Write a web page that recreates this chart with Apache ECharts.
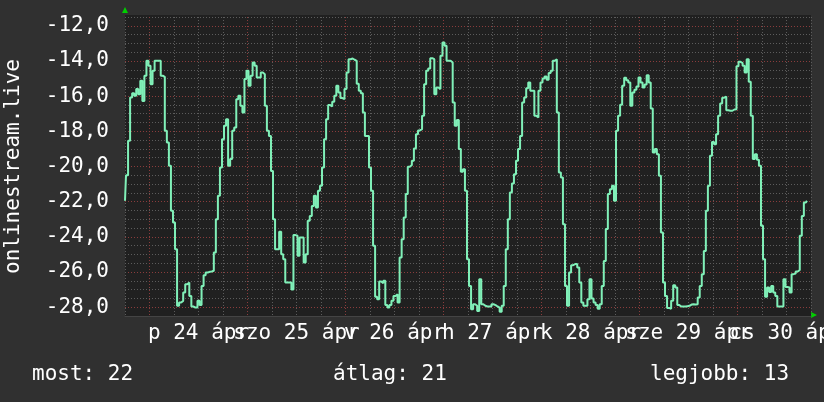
<!DOCTYPE html>
<html>
<head>
<meta charset="utf-8">
<script src="https://cdn.jsdelivr.net/npm/echarts@6/dist/echarts.min.js"></script>
<style>
html,body{margin:0;padding:0;background:#303030;}
#chart{width:824px;height:402px;}
</style>
</head>
<body>
<div id="chart"></div>
<script>
// half-hourly samples, starting Thu 23 Apr 18:00
var values = [
-21.95,-20.5,-18.54,-16.08,-15.83,-15.98,-15.6,-15.89,-15.13,-16.27,
-14.84,-13.99,-14.27,-15.32,-14.56,-13.99,-13.99,-13.99,-14.84,-14.9,
-17.97,-18.64,-19.96,-22.52,-23.18,-24.7,-27.92,-27.73,-27.64,-27.17,
-26.69,-26.6,-27.36,-27.96,-28.02,-28.02,-27.64,-27.88,-26.79,-26.18,
-26.03,-25.99,-25.97,-25.93,-24.89,-23.0,-21.67,-20.06,-18.45,-17.69,
-17.31,-19.96,-19.58,-17.97,-17.78,-16.17,-15.98,-16.55,-16.93,-15.03,
-14.56,-15.41,-14.84,-14.09,-14.27,-14.94,-14.94,-14.65,-14.75,-16.55,
-17.97,-18.26,-20.25,-23.0,-24.7,-24.7,-23.71,-24.99,-25.27,-26.6,
-26.6,-26.6,-27.0,-23.9,-23.94,-25.08,-24.04,-24.04,-25.46,-24.99,
-23.09,-22.81,-22.24,-21.67,-22.33,-21.38,-21.1,-20.06,-18.45,-17.31,
-16.51,-16.59,-16.32,-15.98,-15.41,-15.79,-16.11,-16.17,-15.6,-14.65,
-13.9,-13.86,-13.93,-13.99,-15.3,-15.7,-15.83,-16.93,-18.26,-18.26,
-20.06,-21.38,-24.5,-27.4,-27.55,-26.54,-26.64,-26.5,-27.87,-28.02,
-27.88,-27.64,-27.36,-27.26,-27.73,-25.18,-24.13,-22.9,-21.57,-20.02,
-19.92,-19.68,-18.98,-18.16,-17.95,-17.88,-17.12,-15.32,-14.56,-14.43,
-13.84,-13.9,-15.89,-15.51,-15.6,-13.7,-12.95,-13.14,-13.99,-13.99,
-14.09,-16.36,-17.69,-17.36,-19.01,-20.3,-20.15,-21.38,-25.27,-26.79,
-28.11,-27.83,-27.92,-28.21,-26.41,-27.83,-27.92,-27.96,-27.96,-27.96,
-27.83,-27.88,-27.96,-28.02,-28.26,-27.92,-26.79,-24.7,-23.0,-21.48,
-20.97,-20.44,-19.68,-19.01,-18.26,-16.36,-16.08,-15.55,-15.22,-15.7,
-15.7,-17.12,-17.21,-15.7,-15.22,-15.0,-14.88,-15.07,-14.69,-14.56,
-13.99,-13.9,-16.93,-20.34,-20.63,-23.28,-26.79,-27.92,-26.03,-25.61,
-25.55,-25.55,-25.74,-26.6,-27.73,-27.92,-27.92,-27.55,-26.41,-27.5,
-27.73,-27.87,-28.09,-27.83,-26.79,-25.37,-23.56,-21.57,-21.29,-21.1,
-21.95,-17.97,-17.12,-16.49,-15.41,-14.96,-15.09,-15.22,-16.55,-15.79,
-15.64,-15.45,-14.94,-15.22,-15.51,-15.34,-14.81,-15.22,-16.7,-19.2,
-19.01,-19.3,-20.53,-23.75,-26.6,-27.36,-28.04,-28.09,-27.64,-26.75,
-26.88,-27.88,-27.96,-27.96,-27.96,-27.94,-27.92,-27.85,-27.83,-27.85,
-27.83,-27.45,-26.79,-26.12,-24.8,-22.52,-21.1,-19.39,-18.6,-18.73,
-18.16,-17.12,-16.42,-16.09,-16.02,-16.8,-16.83,-16.83,-16.76,-16.74,
-14.3,-14.05,-14.12,-14.27,-14.65,-13.9,-15.18,-17.12,-19.58,-19.3,
-19.62,-19.96,-23.37,-25.27,-27.4,-26.88,-27.13,-26.79,-27.17,-27.36,
-27.96,-27.96,-27.96,-26.41,-26.85,-26.88,-27.17,-26.12,-26.09,-25.97,
-25.88,-23.94,-22.81,-22.05,-21.95
];
var sampleHours = 0.5;
// day labels, placed at noon of each day (hours from start)
var dayLabels = ['p 24 ápr','szo 25 ápr','v 26 ápr','h 27 ápr','k 28 ápr','sze 29 ápr','cs 30 ápr'];
var dayNoonHours = [18, 42, 66, 90, 114, 138, 162];
var yTicks = [-28,-26,-24,-22,-20,-18,-16,-14,-12];
var yTitle = 'onlinestream.live';
var summaryNames = ['most', 'átlag', 'legjobb'];
var summaryValues = [22, 21, 13];

var FONT = "'DejaVu Sans Mono', monospace";
var MINOR = '#5c5c5c', MAJOR = '#8a3c3c';

var chart = echarts.init(document.getElementById('chart'), null, {renderer: 'canvas'});
var data = values.map(function (v, i) { return [i * sampleHours, v]; });

chart.setOption({
  backgroundColor: '#303030',
  animation: false,
  grid: {
    left: 125, top: 17, width: 686, height: 299,
    containLabel: false, outerBoundsMode: 'none',
    show: true, backgroundColor: '#202020', borderWidth: 0
  },
  xAxis: {
    type: 'value', min: 0, max: 168, interval: 6,
    axisLine: {show: true, lineStyle: {color: '#444444', width: 1}},
    axisTick: {show: false},
    splitLine: {show: true, showMinLine: true, showMaxLine: true,
      lineStyle: {color: [MINOR, MAJOR, MINOR, MINOR], type: [1, 2], width: 1}},
    axisLabel: {
      margin: 7, color: '#ffffff', fontSize: 21, fontFamily: FONT,
      showMinLabel: true, showMaxLabel: true, hideOverlap: false,
      formatter: function (v) {
        var k = dayNoonHours.indexOf(Math.round(v));
        return k >= 0 ? dayLabels[k] : '';
      }
    }
  },
  yAxis: {
    type: 'value', min: -28.5, max: -11.5, interval: 0.5,
    name: yTitle, nameLocation: 'middle', nameGap: 101, nameRotate: 90,
    nameTextStyle: {color: '#ffffff', fontSize: 21, fontFamily: FONT},
    axisLine: {show: false},
    axisTick: {show: false},
    splitLine: {show: true, showMinLine: true, showMaxLine: true,
      lineStyle: {color: [MINOR, MAJOR, MINOR, MINOR], type: [1, 2], width: 1}},
    axisLabel: {
      margin: 16, color: '#ffffff', fontSize: 21, fontFamily: FONT,
      formatter: function (v) {
        for (var i = 0; i < yTicks.length; i++) {
          if (Math.abs(yTicks[i] - v) < 1e-6) return yTicks[i].toFixed(1).replace('.', ',');
        }
        return '';
      }
    }
  },
  graphic: [
    {type: 'rect', shape: {x: 125, y: 15, width: 686, height: 2}, style: {fill: '#202020'}, z: -1},
    {type: 'polygon', shape: {points: [[122, 13], [128, 13], [125, 7]]}, style: {fill: '#00d000'}},
    {type: 'polygon', shape: {points: [[811, 312], [811, 318], [817, 315]]}, style: {fill: '#00d000'}},
    {type: 'text', left: 32, top: 364, style: {text: summaryNames[0] + ': ' + summaryValues[0], fill: '#ffffff', font: '21px ' + FONT}},
    {type: 'text', left: 333, top: 364, style: {text: summaryNames[1] + ': ' + summaryValues[1], fill: '#ffffff', font: '21px ' + FONT}},
    {type: 'text', left: 650, top: 364, style: {text: summaryNames[2] + ': ' + summaryValues[2], fill: '#ffffff', font: '21px ' + FONT}}
  ],
  series: [{
    type: 'line', data: data, step: 'middle', showSymbol: false,
    lineStyle: {color: '#80f0b8', width: 2}, z: 5
  }]
});
</script>
</body>
</html>
